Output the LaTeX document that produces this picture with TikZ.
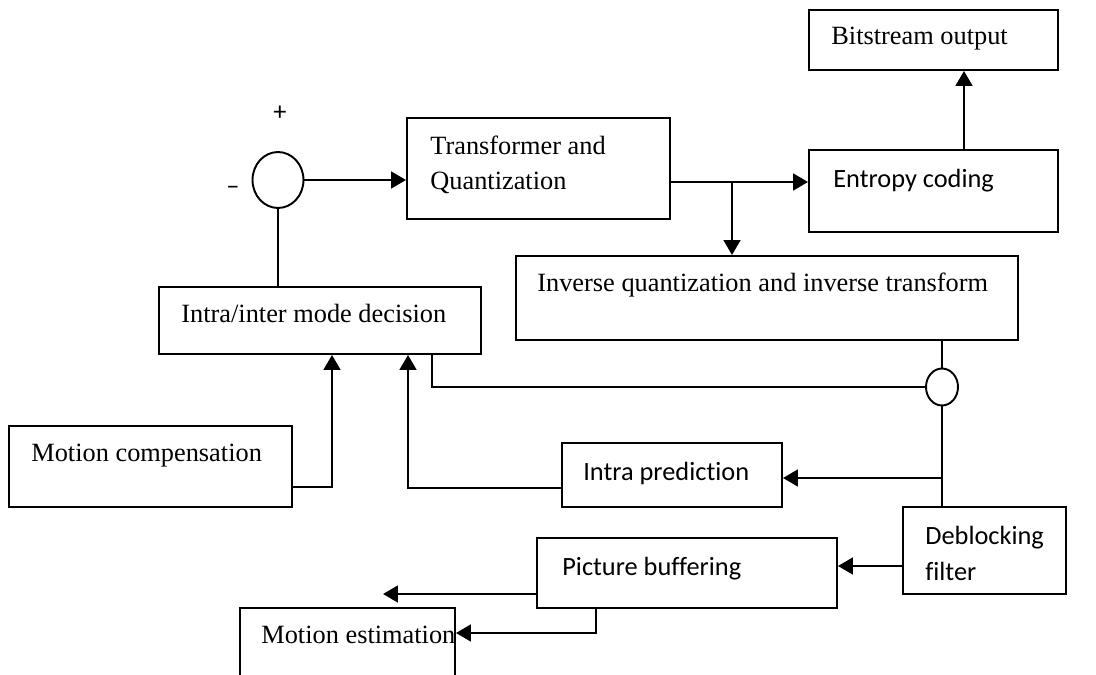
\documentclass[tikz,border=0pt]{standalone}
\usepackage{fontspec}
\setmainfont{Liberation Serif}
\newfontfamily\calib[Ligatures={NoCommon}]{Carlito}
\usetikzlibrary{arrows.meta,fit,shapes.geometric}
\tikzset{
  box/.style={draw, line width=1.1pt, inner sep=0pt},
  rtxt/.style={anchor=base west, inner sep=0pt, font=\fontsize{15}{18}\selectfont},
  stxt/.style={anchor=base west, inner sep=0pt, font=\calib\fontsize{15}{18}\selectfont},
  conn/.style={line width=1.4pt},
  arr/.style={conn, -{Triangle[length=8.5pt,width=9.5pt]}},
}
\begin{document}
\begin{tikzpicture}[x=0.02cm, y=-0.02cm, line join=miter]
\useasboundingbox (0,0) rectangle (1096,675);
\clip (0,0) rectangle (1096,675);
% blocks
\node[box, fit={(809,10) (1058,70)}] (bso) {};
\node[box, fit={(809,150) (1058,232)}] (ent) {};
\node[box, fit={(407,118) (670,219)}] (tq) {};
\node[box, fit={(516,256) (1018,340)}] (iq) {};
\node[box, fit={(159,287) (481,354)}] (mode) {};
\node[box, fit={(9,426) (292,507)}] (mc) {};
\node[box, fit={(562,443) (782,507)}] (ip) {};
\node[box, fit={(903,507) (1066,594)}] (df) {};
\node[box, fit={(537,538) (837,608)}] (pb) {};
\node[box, fit={(240,608) (455,700)}] (me) {};
\node[draw, ellipse, line width=1.1pt, inner sep=0pt, minimum width=1.02cm, minimum height=1.12cm] (sum) at (278,180) {};
\node[draw, ellipse, line width=1.1pt, inner sep=0pt, minimum width=0.64cm, minimum height=0.74cm] (junc) at (942,387) {};
% texts
\node[rtxt] (bso-t) at (831,45) {Bitstream output};
\node[stxt] (ent-t) at (833,188) {Entropy coding};
\node[rtxt] (tq-a) at (430,155) {Transformer and};
\node[rtxt] (tq-b) at (430,190) {Quantization};
\node[rtxt] (iq-t) at (537,292) {Inverse quantization and inverse transform};
\node[rtxt] (mode-t) at (181,323) {Intra/inter mode decision};
\node[rtxt] (mc-t) at (31,462) {Motion compensation};
\node[stxt] (ip-t) at (583,481) {Intra prediction};
\node[stxt] (df-a) at (925,544) {Deblocking};
\node[stxt] (df-b) at (925,581) {filter};
\node[stxt] (pb-t) at (562,576) {Picture buffering};
\node[rtxt] (me-t) at (261,643) {Motion estimation};
\node[stxt, anchor=center] (plus) at (280,113) {+};
\node[stxt, anchor=center] (minus) at (233,190) {–};
% connectors
\coordinate (br) at (732,182);
\coordinate (eo) at (964,150);
\coordinate (mk) at (432,387);
\coordinate (tap) at (942,478);
\coordinate (ia) at (408,488);
\coordinate (ma) at (332,487);
\coordinate (dp) at (903,566);
\coordinate (po) at (383,594);
\coordinate (pd) at (596,633);
\draw[arr] (sum.east) -- (tq.west |- sum.east);
\draw[conn] (sum.south) -- (mode.north -| sum.south);
\draw[arr] (tq.east |- br) -- (ent.west |- br);
\draw[arr] (br) -- (iq.north -| br);
\draw[arr] (eo) -- (bso.south -| eo);
\draw[conn] (iq.south -| junc) -- (junc.north);
\draw[conn] (junc.south) -- (df.north -| junc);
\draw[conn] (junc.west) -- (mk) -- (mode.south -| mk);
\draw[arr] (tap) -- (ip.east |- tap);
\draw[arr] (ip.west |- ia) -- (ia) -- (mode.south -| ia);
\draw[arr] (mc.east |- ma) -- (ma) -- (mode.south -| ma);
\draw[arr] (dp) -- (pb.east |- dp);
\draw[arr] (pb.west |- po) -- (po);
\draw[arr] (pb.south -| pd) -- (pd) -- (me.east |- pd);
\end{tikzpicture}
\end{document}
